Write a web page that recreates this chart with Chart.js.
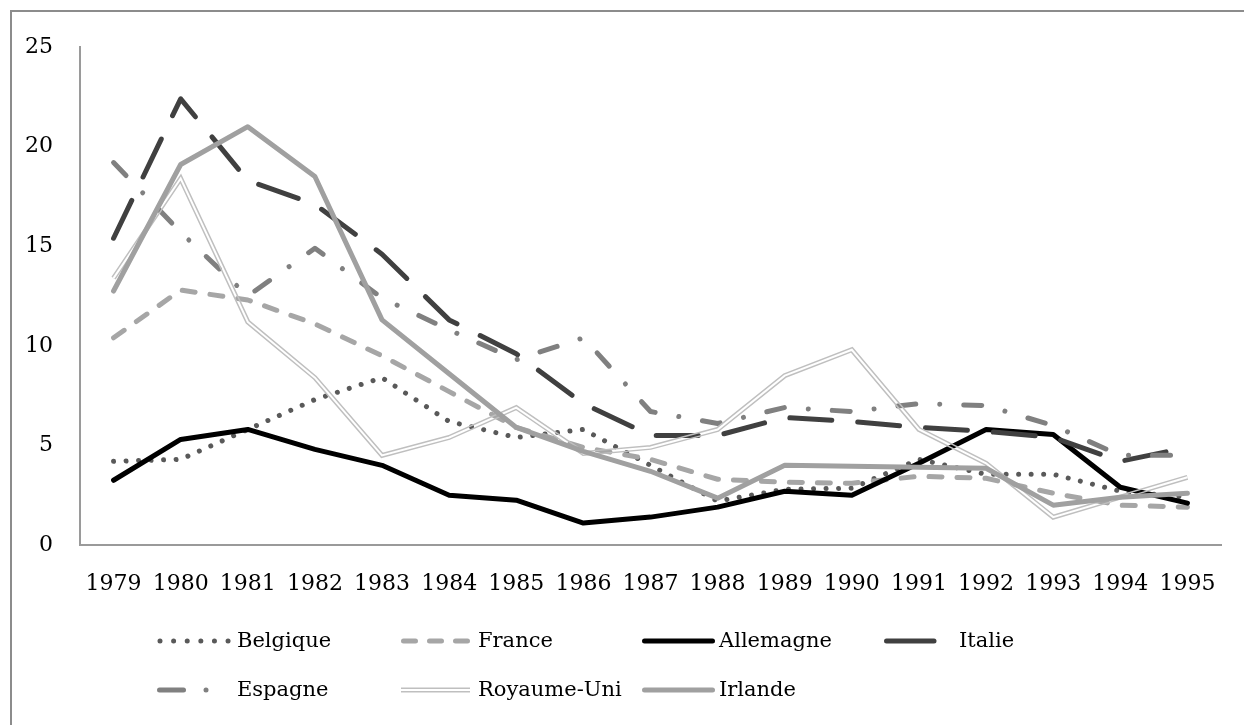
<!DOCTYPE html>
<html>
<head>
<meta charset="utf-8">
<script src="https://cdn.jsdelivr.net/npm/chart.js@4/dist/chart.umd.min.js"></script>
<style>
  html, body { margin: 0; padding: 0; background: #fff; }
  #wrap { width: 1244px; height: 725px; position: relative; }
</style>
</head>
<body>
<div id="wrap"><canvas id="c" width="1244" height="725"></canvas></div>
<script>
const years = ['1979','1980','1981','1982','1983','1984','1985','1986','1987','1988','1989','1990','1991','1992','1993','1994','1995'];
const belgique   = [4.2, 4.3, 5.8, 7.3, 8.4, 6.2, 5.4, 5.8, 4.0, 2.2, 2.8, 2.85, 4.3, 3.55, 3.55, 2.7, 2.4];
const france     = [10.4, 12.8, 12.3, 11.1, 9.5, 7.7, 5.9, 4.9, 4.3, 3.3, 3.15, 3.1, 3.45, 3.35, 2.6, 2.0, 1.9];
const allemagne  = [3.25, 5.3, 5.8, 4.8, 4.0, 2.5, 2.25, 1.1, 1.4, 1.9, 2.7, 2.5, 4.1, 5.8, 5.55, 2.9, 2.1];
const italie     = [15.4, 22.4, 18.3, 17.1, 14.6, 11.3, 9.6, 7.1, 5.5, 5.5, 6.4, 6.2, 5.9, 5.7, 5.4, 4.2, 4.9];
const espagne    = [19.2, 15.7, 12.5, 14.9, 12.4, 10.8, 9.3, 10.4, 6.7, 6.1, 6.9, 6.7, 7.1, 7.0, 6.0, 4.5, 4.5];
const royaumeUni = [13.4, 18.4, 11.2, 8.4, 4.5, 5.4, 6.9, 4.6, 4.9, 5.8, 8.5, 9.8, 5.8, 4.1, 1.4, 2.4, 3.4];
const irlande    = [12.75, 19.1, 21.0, 18.5, 11.3, 8.6, 5.9, 4.7, 3.7, 2.35, 4.0, 3.95, 3.9, 3.85, 2.0, 2.4, 2.6];
const yTicks = [0, 5, 10, 15, 20, 25];

const FONT = "'DejaVu Serif', serif";

const series = [
  { label: 'Belgique',    data: belgique,   color: '#595959', width: 5, dash: [0.01, 12.5], cap: 'round', order: 7 },
  { label: 'France',      data: france,     color: '#a6a6a6', width: 5, dash: [13, 15],    cap: 'round', order: 6 },
  { label: 'Allemagne',   data: allemagne,  color: '#000000', width: 5, dash: [],          cap: 'round', order: 5 },
  { label: 'Italie',      data: italie,     color: '#404040', width: 5, dash: [42, 26],    cap: 'round', order: 4 },
  { label: 'Espagne',     data: espagne,    color: '#808080', width: 5, dash: [18, 24, 0.01, 24], cap: 'round', order: 3 },
  { label: 'Royaume-Uni', data: royaumeUni, color: '#bfbfbf', width: 5, dash: [],          cap: 'butt',  order: 2, double: true },
  { label: 'Irlande',     data: irlande,    color: '#a0a0a0', width: 5, dash: [],          cap: 'round', order: 1 }
];

const datasets = series.map(s => ({
  label: s.label,
  data: s.data,
  borderColor: s.color,
  backgroundColor: s.color,
  borderWidth: s.width,
  borderDash: s.dash,
  borderCapStyle: s.cap,
  borderJoinStyle: 'round',
  pointRadius: 0,
  tension: 0,
  fill: false,
  order: s.order,
  double: !!s.double
}));

function strokeDouble(ctx, pts, color) {
  const off = document.createElement('canvas');
  off.width = ctx.canvas.width; off.height = ctx.canvas.height;
  const o = off.getContext('2d');
  o.lineJoin = 'miter'; o.lineCap = 'butt';
  o.beginPath();
  pts.forEach((p, i) => i ? o.lineTo(p.x, p.y) : o.moveTo(p.x, p.y));
  o.strokeStyle = color; o.lineWidth = 5; o.stroke();
  o.globalCompositeOperation = 'destination-out';
  o.lineWidth = 2; o.stroke();
  ctx.save();
  ctx.setTransform(1,0,0,1,0,0);
  ctx.drawImage(off, 0, 0);
  ctx.restore();
}

const doubleLinePlugin = {
  id: 'doubleLine',
  beforeDatasetDraw(chart, args) {
    const ds = chart.data.datasets[args.index];
    if (!ds.double) return;
    const pts = args.meta.data.map(p => ({ x: p.x, y: p.y }));
    strokeDouble(chart.ctx, pts, ds.borderColor);
    return false;
  }
};

const framePlugin = {
  id: 'frame',
  beforeDraw(chart) {
    const ctx = chart.ctx;
    ctx.save();
    ctx.strokeStyle = '#8c8c8c';
    ctx.lineWidth = 2;
    ctx.beginPath();
    ctx.moveTo(11, 725); ctx.lineTo(11, 11); ctx.lineTo(1244, 11);
    ctx.stroke();
    ctx.restore();
  }
};

// legend layout: sample start / text start per column, row centres
const legendSampleX = [157, 401, 642, 884];
const legendTextX = [237, 478, 719, 959];
const legendRowY = [641, 690];

function seg(ctx, x1, x2, y) {
  ctx.beginPath(); ctx.moveTo(x1, y); ctx.lineTo(x2, y); ctx.stroke();
}

const legendPlugin = {
  id: 'gridLegend',
  afterDraw(chart) {
    const ctx = chart.ctx;
    chart.data.datasets.forEach((ds, i) => {
      const col = i % 4, row = Math.floor(i / 4);
      const x = legendSampleX[col], y = legendRowY[row];
      ctx.save();
      ctx.strokeStyle = ds.borderColor;
      ctx.lineWidth = ds.borderWidth;
      ctx.lineCap = 'round';
      if (ds.double) {
        strokeDouble(ctx, [{x: x, y}, {x: x + 69, y}], ds.borderColor);
      } else if (ds.label === 'Belgique') {
        ctx.setLineDash([0.01, 13.6]);
        seg(ctx, x + 3, x + 72, y);
      } else if (ds.label === 'France') {
        ctx.setLineDash([12, 14]);
        seg(ctx, x + 2.5, x + 68, y);
      } else if (ds.label === 'Italie') {
        seg(ctx, x + 2.5, x + 50, y);
      } else if (ds.label === 'Espagne') {
        seg(ctx, x + 2.5, x + 26.5, y);
        seg(ctx, x + 49, x + 49.01, y);
      } else {
        seg(ctx, x + 2.5, x + 70.5, y);
      }
      ctx.restore();
      ctx.save();
      ctx.fillStyle = '#000';
      ctx.font = '21px ' + FONT;
      ctx.textBaseline = 'middle';
      ctx.textAlign = 'left';
      ctx.fillText(ds.label, legendTextX[col], y + 1);
      ctx.restore();
    });
  }
};

new Chart(document.getElementById('c'), {
  type: 'line',
  data: { labels: years, datasets },
  plugins: [framePlugin, doubleLinePlugin, legendPlugin],
  options: {
    responsive: false,
    animation: false,
    layout: { padding: { left: 0, top: 47, right: 23, bottom: 120 } },
    plugins: { legend: { display: false }, tooltip: { enabled: false } },
    scales: {
      x: {
        type: 'category',
        offset: true,
        grid: { display: false, drawTicks: false },
        border: { display: true, color: '#9a9a9a', width: 2 },
        ticks: { color: '#000', font: { family: FONT, size: 22 }, padding: 26, maxRotation: 0, autoSkip: false },
        afterFit(scale) { scale.height = 60; }
      },
      y: {
        min: 0, max: 25,
        afterBuildTicks(scale) { scale.ticks = yTicks.map(v => ({ value: v })); },
        grid: { display: false, drawTicks: false },
        border: { display: true, color: '#9a9a9a', width: 2 },
        ticks: { color: '#000', font: { family: FONT, size: 22 }, padding: 27 },
        afterFit(scale) { scale.width = 80; }
      }
    }
  }
});
</script>
</body>
</html>
